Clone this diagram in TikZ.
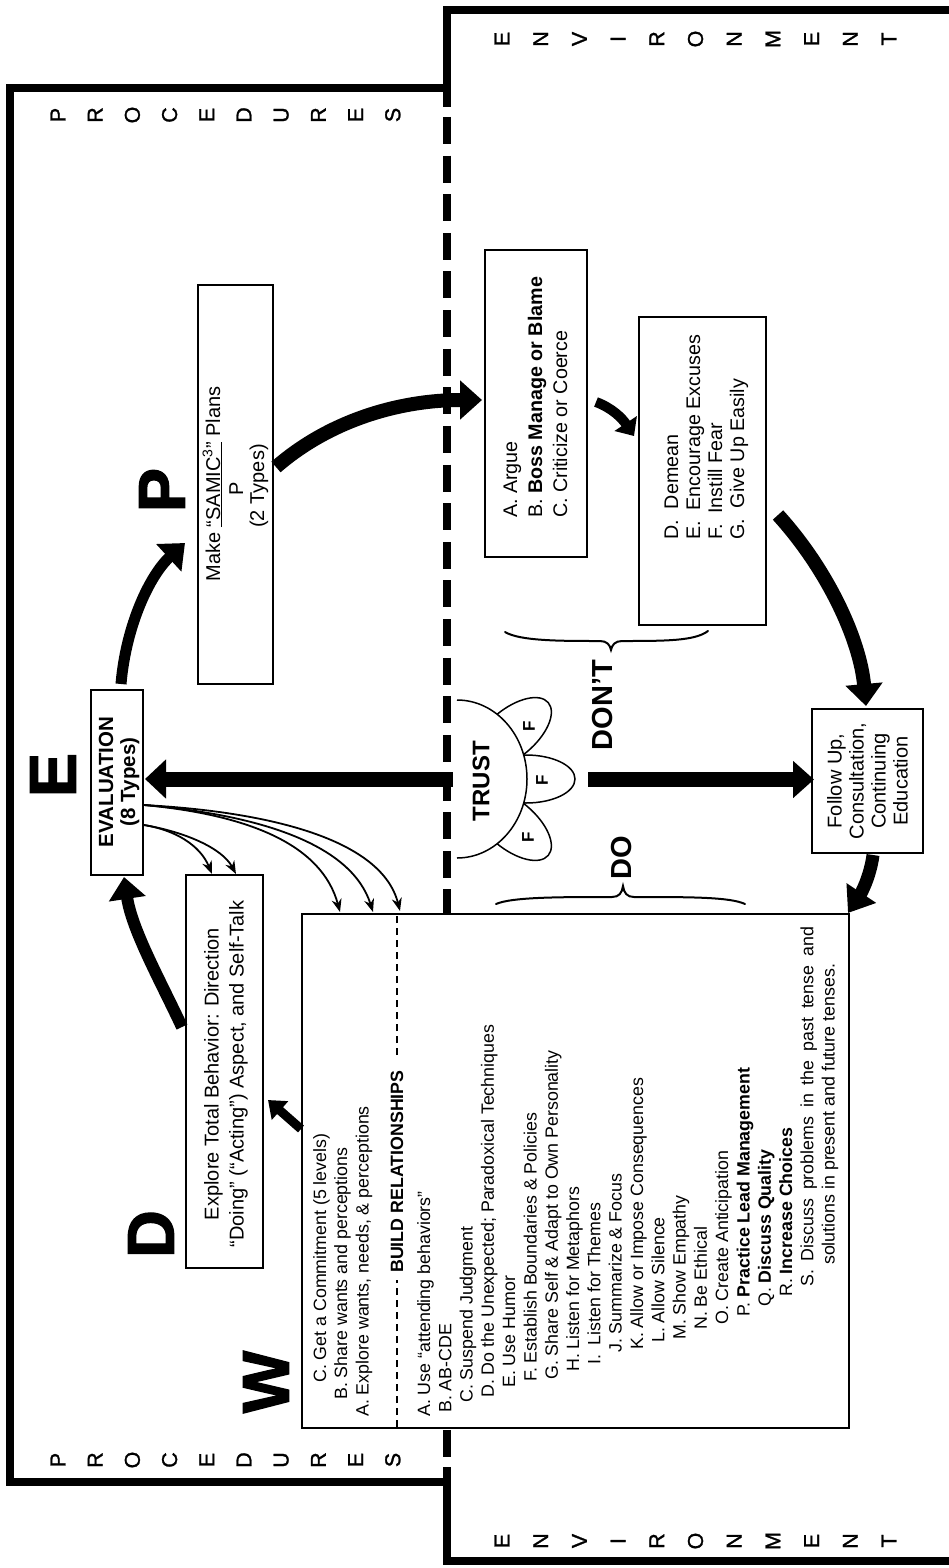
\documentclass[tikz,border=0pt]{standalone}
\usepackage{fontspec}
\setmainfont{Liberation Sans}
\newfontfamily\heavyfont{Liberation Sans}[BoldFeatures={FakeBold=2}]
\newfontfamily\framefont{Liberation Sans}[FakeBold=1.2]
\usetikzlibrary{arrows.meta}
\begin{document}
\begin{tikzpicture}[x=1pt,y=-1pt,
  bord/.style={line width=8pt, line join=miter},
  boxn/.style={draw, line width=1.3pt, fill=white, inner sep=0pt},
  rt/.style={rotate=90, inner sep=0pt},
  bx/.style={rt, font=\fontsize{20}{22}\selectfont},
  bxl/.style={rt, anchor=base west, font=\fontsize{19.7}{22}\selectfont},
  li/.style={rt, anchor=base west, font=\fontsize{17.8}{21}\selectfont},
  edgeletter/.style={rt, font=\framefont\fontsize{21.5}{21.5}\selectfont},
  bigletter/.style={rt, font=\heavyfont\bfseries\fontsize{66}{66}\selectfont},
  bigtip/.style={-{Triangle[length=22pt,width=36pt]}},
  thin/.style={line width=1.8pt, -{Stealth[length=13pt,width=10pt]}},
  brace/.style={line width=2pt, line cap=round}
]
\useasboundingbox (0,0) rectangle (948,1568);
\fill[white] (0,0) rectangle (948,1568);

% ---- outer frames
\draw[bord] (447,88) -- (10,88) -- (10,1482) -- (447,1482);
\draw[bord] (960,10) -- (447,10) -- (447,107);
\draw[bord] (447,1467) -- (447,1561) -- (960,1561);
\draw[line width=8pt, dash pattern=on 27pt off 11.62pt] (447,117) -- (447,1458);

% ---- frame letters
\foreach \ch [count=\i from 0] in {P,R,O,C,E,D,U,R,E,S} {
  \node[edgeletter] (pt\i) at ({58+37.2*\i},115) {\ch};
  \node[edgeletter] (pb\i) at ({58+37.2*\i},1460) {\ch};
}
\foreach \ch [count=\i from 0] in {E,N,V,I,R,O,N,M,E,N,T} {
  \node[edgeletter] (et\i) at ({502+38.7*\i},39) {\ch};
  \node[edgeletter] (eb\i) at ({502+38.7*\i},1541) {\ch};
}

% ---- big letters
\node[bigletter] (bigW) at (266,1382) {W};
\node[bigletter] (bigD) at (151,1234) {D};
\node[bigletter] (bigE) at (53,775) {E};
\node[bigletter] (bigP) at (162,490) {P};

% ---- big list box
\node[boxn, line width=2pt, minimum width=547pt, minimum height=514pt] (list) at (575.5,1171) {};
\draw[line width=1.5pt, dash pattern=on 7pt off 5pt] (397,1427) -- (397,1280);
\draw[line width=1.5pt, dash pattern=on 7pt off 5pt] (397,1055) -- (397,915);
\node[li, font=\bfseries\fontsize{17.8}{21}\selectfont] (build) at (403,1273) {BUILD RELATIONSHIPS};
\node[li] (uc) at (326,1383) {C. Get a Commitment (5 levels)};
\node[li] (ub) at (347,1400) {B. Share wants and perceptions};
\node[li] (ua) at (368.5,1417) {A. Explore wants, needs, \& perceptions};
\node[li] (la) at (430,1417) {A. Use “attending behaviors”};
\node[li] (lb) at (451.3,1413) {B. AB-CDE};
\node[li] (lc) at (472.6,1403) {C. Suspend Judgment};
\node[li] (ld) at (493.9,1398) {D. Do the Unexpected; Paradoxical Techniques};
\node[li] (le) at (515.2,1388) {E. Use Humor};
\node[li] (lf) at (536.5,1382) {F. Establish Boundaries \& Policies};
\node[li] (lg) at (557.8,1380) {G. Share Self \& Adapt to Own Personality};
\node[li] (lh) at (579.1,1372) {H. Listen for Metaphors};
\node[li] (lii) at (600.4,1365) {I.\ \ Listen for Themes};
\node[li] (lj) at (621.7,1353) {J. Summarize \& Focus};
\node[li] (lk) at (643,1350) {K. Allow or Impose Consequences};
\node[li] (ll) at (664.3,1343) {L. Allow Silence};
\node[li] (lm) at (685.6,1340) {M. Show Empathy};
\node[li] (ln) at (706.9,1330) {N. Be Ethical};
\node[li] (lo) at (728.2,1325) {O. Create Anticipation};
\node[li] (lp) at (749.5,1317) {P. \textbf{Practice Lead Management}};
\node[li] (lq) at (770.8,1307) {Q. \textbf{Discuss Quality}};
\node[li] (lr) at (792.1,1297) {R. \textbf{Increase Choices}};
\node[li] (ls) at (813.4,1287) {\makebox[360pt][s]{S. Discuss problems in the past tense and}};
\node[li] (ls2) at (834.7,1265) {solutions in present and future tenses.};

% ---- other boxes
\node[boxn, minimum width=75pt, minimum height=399pt] (plan) at (235.5,484.5) {};
\node[rt, anchor=base, font=\fontsize{20}{22}\selectfont] (pl1) at (220,484) {Make \underline{“SAMIC\textsuperscript{3}”} Plans};
\node[rt, anchor=base, font=\fontsize{20}{22}\selectfont] (pl2) at (243,489) {P};
\node[rt, anchor=base, font=\fontsize{20}{22}\selectfont] (pl3) at (264,486) {(2 Types)};

\node[boxn, minimum width=102pt, minimum height=307pt] (abox) at (536,403.5) {};
\node[bxl] (aa) at (517,518) {A. Argue};
\node[bxl] (ab) at (542,518) {B. \textbf{Boss Manage or Blame}};
\node[bxl] (ac) at (567,518) {C. Criticize or Coerce};

\node[boxn, minimum width=127pt, minimum height=308pt] (dbox) at (702.5,471) {};
\node[bxl] (dd) at (678,540) {D.\ \ Demean};
\node[bxl] (de) at (700,540) {E.\ \ Encourage Excuses};
\node[bxl] (df) at (722,540) {F.\ \ Instill Fear};
\node[bxl] (dg) at (744,540) {G.\ \ Give Up Easily};

\node[boxn, minimum width=111pt, minimum height=144pt] (fbox) at (867.5,781) {};
\node[bx, align=center] (ftext) at (867.5,781) {Follow Up,\\Consultation,\\Continuing\\Education};

\node[boxn, line width=1.5pt, minimum width=52pt, minimum height=185pt] (ebox) at (117,782.5) {};
\node[bx, align=center, font=\bfseries\fontsize{20.5}{22}\selectfont] (etext) at (119,782) {EVALUATION\\(8 Types)};

\node[boxn, minimum width=77pt, minimum height=393pt] (xbox) at (224.5,1071.5) {};
\node[rt, align=center, font=\fontsize{20}{25}\selectfont] (xtext) at (226,1074) {Explore Total Behavior: Direction\\“Doing” (“Acting”) Aspect, and Self-Talk};

% ---- TRUST flower
\draw[line width=1.5pt, fill=white, rotate around={40:(511.5,733.5)}] (511.5,733.5) ellipse [x radius=48pt, y radius=24pt];
\draw[line width=1.5pt, fill=white, rotate around={-40:(511.5,824.5)}] (511.5,824.5) ellipse [x radius=48pt, y radius=24pt];
\draw[line width=1.5pt, fill=white] (526,779) ellipse [x radius=49pt, y radius=24pt];
\fill[white] (457,700) arc[start angle=90, end angle=-90, x radius=70pt, y radius=79pt] -- cycle;
\draw[line width=1.5pt] (457,700) arc[start angle=90, end angle=-90, x radius=70pt, y radius=79pt];
\node[rt, font=\bfseries\fontsize{24}{24}\selectfont] (trust) at (481,781) {TRUST};
\node[rt, font=\bfseries\fontsize{17}{17}\selectfont] (f1) at (529,726) {F};
\node[rt, font=\bfseries\fontsize{17}{17}\selectfont] (f2) at (542,780) {F};
\node[rt, font=\bfseries\fontsize{17}{17}\selectfont] (f3) at (528,837) {F};

\node[rt, font=\bfseries\fontsize{29}{29}\selectfont] (dont) at (603,705) {DON’T};
\node[rt, font=\bfseries\fontsize{29}{29}\selectfont] (do) at (622,858) {DO};

% braces
\draw[brace] (505,632) .. controls (520,641) and (560,641) .. (600,641) .. controls (607,641) and (610,645) .. (611,650) .. controls (612,645) and (615,641) .. (622,641) .. controls (665,641) and (695,641) .. (708,631);
\draw[brace] (496,904) .. controls (512,897) and (560,897) .. (612,897) .. controls (619,897) and (622,893) .. (623,886) .. controls (624,893) and (627,897) .. (634,897) .. controls (690,897) and (730,897) .. (745,904);

% ---- coordinates for arrows
\coordinate (e2p0) at (121,684);
\coordinate (e2p1) at (185,543);
\coordinate (p2a0) at (276,467);
\coordinate (p2a1) at (482,400);
\coordinate (a2d0) at (596,402);
\coordinate (a2d1) at (634,436);
\coordinate (d2f0) at (778,515);
\coordinate (d2f1) at (866,706);
\coordinate (f2l0) at (873,855);
\coordinate (f2l1) at (848,913);
\coordinate (t2e0) at (453,779);
\coordinate (t2e1) at (145,779);
\coordinate (t2f0) at (588,779.5);
\coordinate (t2f1) at (814,779.5);
\coordinate (x2e0) at (182,1027);
\coordinate (x2e1) at (124,877);
\coordinate (l2x0) at (301,1129);
\coordinate (l2x1) at (268,1100);
\coordinate (es1) at (144,825);
\coordinate (es2) at (144,805);
\coordinate (xt1) at (212,874);
\coordinate (xt2) at (236,874);
\coordinate (lt1) at (340,912);
\coordinate (lt2) at (373,912);
\coordinate (lt3) at (400,911);

% ---- fat arrows
\draw[line width=11pt, bigtip] (e2p0) .. controls (126,625) and (150,575) .. (e2p1);
\draw[line width=14pt, -{Triangle[length=22pt,width=38pt]}] (p2a0) .. controls (330,420) and (400,400) .. (p2a1);
\draw[line width=10pt, -{Triangle[length=15pt,width=26pt]}] (a2d0) .. controls (612,408) and (622,418) .. (a2d1);
\draw[line width=14pt, bigtip] (d2f0) .. controls (828,570) and (860,640) .. (d2f1);
\draw[line width=13pt, -{Triangle[length=24pt,width=34pt]}] (f2l0) .. controls (870,878) and (860,895) .. (f2l1);
\draw[line width=15pt, -{Triangle[length=21pt,width=38pt]}] (t2e0) -- (t2e1);
\draw[line width=15pt, -{Triangle[length=21pt,width=36pt]}] (t2f0) -- (t2f1);
\draw[line width=12pt, bigtip] (x2e0) .. controls (160,980) and (132,930) .. (x2e1);
\draw[line width=9pt, -{Triangle[length=16pt,width=24pt]}] (l2x0) -- (l2x1);

% ---- thin arrows
\draw[thin] (es1) .. controls (175,830) and (200,845) .. (xt1);
\draw[thin] (es1) .. controls (185,832) and (222,848) .. (xt2);
\draw[thin] (es2) .. controls (250,815) and (322,845) .. (lt1);
\draw[thin] (es2) .. controls (262,815) and (352,845) .. (lt2);
\draw[thin] (es2) .. controls (272,812) and (382,840) .. (lt3);
\end{tikzpicture}
\end{document}
